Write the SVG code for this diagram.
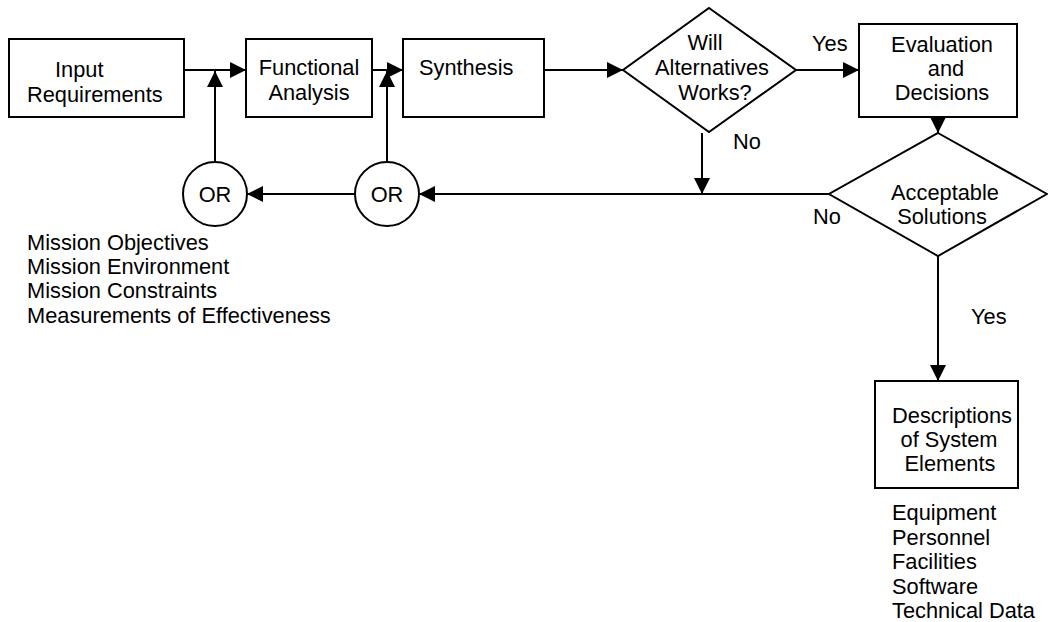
<svg xmlns="http://www.w3.org/2000/svg" width="1048" height="622" viewBox="0 0 1048 622">
  <defs>
    <marker id="arrow" markerUnits="userSpaceOnUse" markerWidth="18" markerHeight="16" refX="16" refY="8" orient="auto">
      <path d="M0,0 L16,8 L0,16 Z" fill="#000"/>
    </marker>
  </defs>
  <style>
    .box { fill: #fff; stroke: #000; stroke-width: 2; }
    .line { fill: none; stroke: #000; stroke-width: 2; }
    .arr { fill: none; stroke: #000; stroke-width: 2; marker-end: url(#arrow); }
    text { font-family: "Liberation Sans", Arial, sans-serif; font-size: 21.8px; fill: #000; }
    .c { text-anchor: middle; }
  </style>
  <rect width="1048" height="622" fill="#fff"/>

  <!-- connectors -->
  <g id="connectors">
    <line class="arr" x1="184" y1="70" x2="246" y2="70"/>
    <line class="arr" x1="372" y1="70" x2="403" y2="70"/>
    <line class="arr" x1="544" y1="70" x2="623" y2="70"/>
    <line class="arr" x1="796" y1="70" x2="859" y2="70"/>
    <line class="arr" x1="938" y1="117" x2="938" y2="133"/>
    <line class="arr" x1="938" y1="256" x2="938" y2="381"/>
    <line class="arr" x1="702" y1="133" x2="702" y2="194"/>
    <line class="arr" x1="829" y1="194" x2="419" y2="194"/>
    <line class="arr" x1="355" y1="194" x2="247" y2="194"/>
    <line class="arr" x1="215" y1="162" x2="215" y2="71"/>
    <line class="arr" x1="387" y1="162" x2="387" y2="71"/>
    <text x="812" y="51">Yes</text>
    <text x="733" y="149">No</text>
    <text x="813" y="224">No</text>
    <text x="971" y="324">Yes</text>
  </g>

  <g id="input-requirements">
    <rect class="box" x="9" y="39" width="175" height="78"/>
    <text x="55" y="77">Input</text>
    <text x="27" y="102">Requirements</text>
  </g>

  <g id="functional-analysis">
    <rect class="box" x="246" y="39" width="126" height="78"/>
    <text class="c" x="309" y="75">Functional</text>
    <text class="c" x="309" y="100">Analysis</text>
  </g>

  <g id="synthesis">
    <rect class="box" x="403" y="39" width="141" height="78"/>
    <text x="419" y="75">Synthesis</text>
  </g>

  <g id="will-alternatives-work">
    <polygon class="box" points="709,8 796,70 709,132 623,70"/>
    <text class="c" x="705" y="50">Will</text>
    <text class="c" x="712" y="75">Alternatives</text>
    <text class="c" x="715" y="100">Works?</text>
  </g>

  <g id="evaluation-decisions">
    <rect class="box" x="859" y="24" width="158" height="93"/>
    <text class="c" x="942" y="52">Evaluation</text>
    <text class="c" x="946" y="76">and</text>
    <text class="c" x="942" y="100">Decisions</text>
  </g>

  <g id="acceptable-solutions">
    <polygon class="box" points="938,133 1047,194 938,256 829,194"/>
    <text class="c" x="945" y="200">Acceptable</text>
    <text class="c" x="942" y="224">Solutions</text>
  </g>

  <g id="or-left">
    <circle class="box" cx="215" cy="194" r="32"/>
    <text class="c" x="215" y="202">OR</text>
  </g>

  <g id="or-right">
    <circle class="box" cx="387" cy="194" r="32"/>
    <text class="c" x="387" y="202">OR</text>
  </g>

  <g id="mission-inputs">
    <text x="27" y="250">Mission Objectives</text>
    <text x="27" y="274">Mission Environment</text>
    <text x="27" y="298">Mission Constraints</text>
    <text x="27" y="323">Measurements of Effectiveness</text>
  </g>

  <g id="system-elements">
    <rect class="box" x="875" y="381" width="143" height="107"/>
    <text class="c" x="952" y="423">Descriptions</text>
    <text class="c" x="949" y="447">of System</text>
    <text class="c" x="950" y="471">Elements</text>
  </g>

  <g id="element-list">
    <text x="892" y="520">Equipment</text>
    <text x="892" y="545">Personnel</text>
    <text x="892" y="569">Facilities</text>
    <text x="892" y="594">Software</text>
    <text x="892" y="618">Technical Data</text>
  </g>
</svg>
